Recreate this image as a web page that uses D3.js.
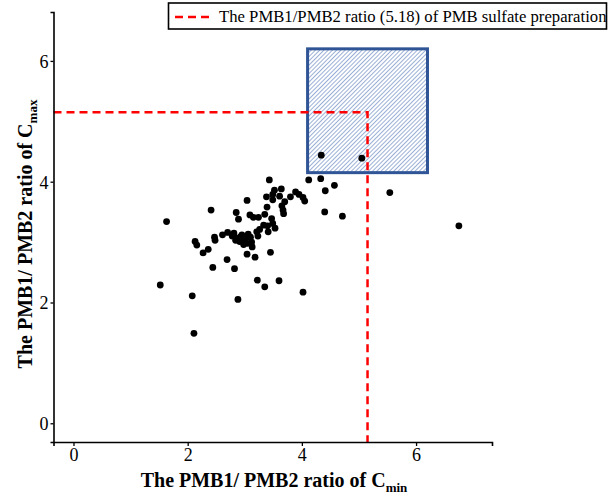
<!DOCTYPE html>
<html>
<head>
<meta charset="utf-8">
<script src="https://cdn.jsdelivr.net/npm/d3@7"></script>
<style>
  body { margin: 0; background: #fff; }
  svg text { font-family: "Liberation Serif", "Times New Roman", serif; fill: #000; }
  .axis-title { font-size: 20px; font-weight: bold; }
  .tick text { font-size: 18px; font-family: "Liberation Serif", "Times New Roman", serif; }
</style>
</head>
<body>
<svg id="scatterplot" width="613" height="498"></svg>
<script>
// PMB1/PMB2 ratio of Cmin (x) and Cmax (y) for each sample
var cmin = [4.34, 5.05, 3.43, 4.12, 4.33, 4.57, 4.41, 4.40, 5.54, 4.71, 6.75,
  3.64, 3.52, 3.89, 3.95, 3.49, 3.38, 3.80, 4.02, 3.61, 4.05, 3.49, 3.70, 3.04,
  3.39, 3.65, 2.41, 1.63, 2.85, 2.89, 3.09, 3.15, 3.24, 3.35, 3.68, 3.67, 3.47,
  3.49, 3.33, 3.40, 3.53, 3.26, 3.21, 3.41, 3.23, 3.10, 3.01, 2.93, 2.85, 2.81,
  2.70, 2.61, 2.47, 2.48, 2.84, 2.91, 3.00, 3.05, 3.13, 2.13, 2.16, 2.36, 2.27,
  3.04, 3.18, 3.45, 2.69, 2.44, 2.82, 3.22, 3.35, 3.60, 4.02, 1.52, 2.08, 2.88,
  2.11, 2.95, 3.06, 2.98, 2.78, 3.12];
var cmax = [4.44, 4.39, 4.03, 4.03, 4.05, 3.94, 3.85, 3.50, 3.82, 3.43, 3.27,
  3.88, 3.86, 3.83, 3.79, 3.79, 3.75, 3.75, 3.74, 3.76, 3.68, 3.70, 3.67, 3.69,
  3.58, 3.60, 3.53, 3.34, 3.49, 3.38, 3.45, 3.41, 3.41, 3.46, 3.47, 3.53, 3.39,
  3.31, 3.28, 3.27, 3.23, 3.21, 3.17, 3.17, 3.10, 3.08, 3.07, 3.09, 3.07, 3.15,
  3.16, 3.12, 3.08, 3.03, 3.03, 3.01, 3.02, 2.98, 2.92, 3.01, 2.95, 2.88, 2.82,
  2.80, 2.75, 2.83, 2.71, 2.58, 2.56, 2.37, 2.26, 2.36, 2.17, 2.29, 2.11, 2.05,
  1.49, 3.12, 3.13, 2.96, 3.10, 3.00];

var xTicks = [0, 2, 4, 6];
var yTicks = [0, 2, 4, 6];

// ratio of the PMB sulfate preparation (reference lines)
var refRatio = 5.15;
var legendLabel = "The PMB1/PMB2 ratio (5.18) of PMB sulfate preparation";

// highlighted region [x0, x1, y0, y1]
var boxX = [4.10, 6.20];
var boxY = [4.15, 6.20];

(function() {
    var left = 53.5, right = 492, top = 12, bottom = 442;
    var svg = d3.select("#scatterplot");

    var x = d3.scaleLinear().domain([-0.35, 7.33]).range([left, right]);
    var y = d3.scaleLinear().domain([-0.31, 6.81]).range([bottom, top]);

    // hatch pattern for the box
    var defs = svg.append("defs");
    defs.append("pattern")
        .attr("id", "hatch")
        .attr("patternUnits", "userSpaceOnUse")
        .attr("width", 3).attr("height", 3)
        .attr("patternTransform", "rotate(45)")
      .append("line")
        .attr("x1", 0).attr("y1", 0).attr("x2", 0).attr("y2", 3)
        .attr("stroke", "#7996c8").attr("stroke-width", 1.5);

    svg.append("rect")
        .attr("x", x(boxX[0])).attr("y", y(boxY[1]))
        .attr("width", x(boxX[1]) - x(boxX[0]))
        .attr("height", y(boxY[0]) - y(boxY[1]))
        .attr("fill", "url(#hatch)")
        .attr("stroke", "#2f5597").attr("stroke-width", 3);

    // reference dashed lines
    var dash = "8,5";
    svg.append("path")
        .attr("d", d3.line()([[x.range()[0], y(refRatio)], [x(refRatio), y(refRatio)], [x(refRatio), bottom]]))
        .attr("fill", "none").attr("stroke", "#ff0000")
        .attr("stroke-width", 2.5).attr("stroke-dasharray", dash);

    // axes
    var xAxis = svg.append("g")
        .attr("transform", "translate(0," + bottom + ")")
        .call(d3.axisBottom(x).tickValues(xTicks).tickSize(4).tickPadding(2));
    var yAxis = svg.append("g")
        .attr("transform", "translate(" + left + ",0)")
        .call(d3.axisLeft(y).tickValues(yTicks).tickSize(3).tickPadding(2));
    [xAxis, yAxis].forEach(function(g) {
        g.select(".domain").attr("stroke", "#000").attr("stroke-width", 1.6);
        g.selectAll(".tick line").attr("stroke", "#000").attr("stroke-width", 1.3);
        g.attr("font-family", null).attr("font-size", null);
    });
    yAxis.selectAll(".tick text").attr("dy", "0.35em");

    // points
    var data = cmin.map(function(d, i) { return { cmin: d, cmax: cmax[i] }; });
    svg.append("g")
        .selectAll("circle")
        .data(data)
        .enter()
        .append("circle")
            .attr("cx", function(d) { return x(d.cmin); })
            .attr("cy", function(d) { return y(d.cmax); })
            .attr("r", 3.4)
            .attr("fill", "#000");

    // axis titles
    var xt = svg.append("text")
        .attr("class", "axis-title")
        .attr("x", 274).attr("y", 487)
        .attr("text-anchor", "middle");
    xt.append("tspan").text("The PMB1/ PMB2 ratio of C");
    xt.append("tspan").attr("dy", 5).attr("font-size", 13).text("min");

    var yt = svg.append("text")
        .attr("class", "axis-title")
        .attr("transform", "translate(32,234) rotate(-90)")
        .attr("text-anchor", "middle");
    yt.append("tspan").text("The PMB1/ PMB2 ratio of C");
    yt.append("tspan").attr("dy", 5).attr("font-size", 13).text("max");

    // legend
    var legend = svg.append("g");
    legend.append("rect")
        .attr("x", 168.5).attr("y", 3).attr("width", 438).attr("height", 26)
        .attr("fill", "#fff").attr("stroke", "#000").attr("stroke-width", 1.6);
    legend.append("line")
        .attr("x1", 175).attr("x2", 213).attr("y1", 17).attr("y2", 17)
        .attr("stroke", "#ff0000").attr("stroke-width", 2.5).attr("stroke-dasharray", dash);
    legend.append("text")
        .attr("x", 219).attr("y", 22)
        .attr("font-size", 16.7)
        .text(legendLabel);
})();
</script>
</body>
</html>
